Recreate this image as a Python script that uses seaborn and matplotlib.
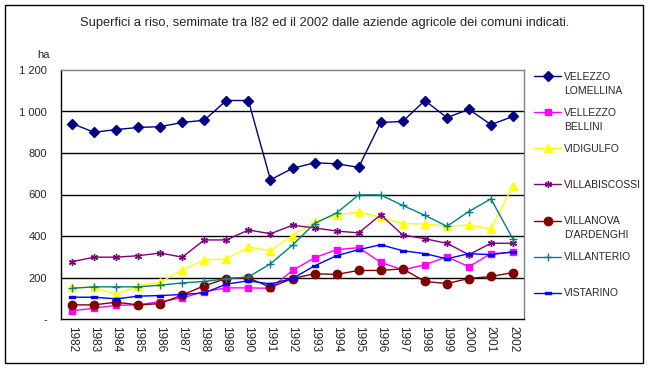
import numpy as np
import seaborn as sns
import matplotlib.pyplot as plt
from matplotlib.patches import Rectangle

# Superfici a riso (ha) per comune, 1982-2002
years = [str(y) for y in range(1982, 2003)]

velezzo_lomellina = [942, 900, 913, 923, 927, 947, 958, 1053, 1053, 671,
                     726, 753, 748, 731, 947, 952, 1053, 971, 1010, 937, 976]
vellezzo_bellini = [40, 52, 66, 68, 84, 102, 132, 150, 150, 148,
                    234, 295, 334, 344, 273, 237, 261, 300, 252, 315, 321]
vidigulfo = [152, 152, 119, 161, 177, 237, 284, 290, 347, 329,
             402, 469, 502, 516, 490, 460, 458, 447, 453, 434, 642]
villabiscossi = [276, 298, 298, 305, 318, 298, 381, 381, 429, 411,
                 452, 439, 424, 415, 502, 405, 387, 365, 310, 365, 365]
villanova = [68, 68, 81, 68, 74, 116, 160, 195, 198, 153,
             195, 218, 215, 234, 234, 242, 181, 171, 195, 205, 224]
villanterio = [148, 155, 155, 155, 163, 174, 181, 194, 203, 266,
               356, 460, 511, 598, 598, 547, 500, 447, 518, 579, 385]
vistarino = [105, 105, 97, 110, 113, 118, 126, 168, 184, 169,
             195, 256, 305, 334, 358, 329, 315, 290, 315, 310, 324]

labels = ["VELEZZO\nLOMELLINA", "VELLEZZO\nBELLINI", "VIDIGULFO",
          "VILLABISCOSSI", "VILLANOVA\nD'ARDENGHI", "VILLANTERIO", "VISTARINO"]
series = [velezzo_lomellina, vellezzo_bellini, vidigulfo, villabiscossi,
          villanova, villanterio, vistarino]

colors = ["#000080", "#FF00FF", "#FFFF00", "#800080", "#800000", "#008080", "#0000FF"]
dash = [(-1, -0.45), (1, -0.45), (1, 0.45), (-1, 0.45), (-1, -0.45)]
markers = ["D", "s", "^", (6, 2, 0), "o", "+", dash]
msizes = [5, 5, 6, 5, 6, 5.5, 4.5]

sns.set_style("white")
plt.rcParams['font.family'] = ['Liberation Sans', 'DejaVu Sans']
fs = 7.5

fig = plt.figure(figsize=(6.52, 3.69), dpi=100)
W, H = 652.0, 369.0
ax = fig.add_axes([61 / W, (H - 319) / H, (524 - 61) / W, (319 - 70) / H])

x = np.arange(len(years))
for vals, lab, col, mk, ms in zip(series, labels, colors, markers, msizes):
    sns.lineplot(x=x, y=vals, ax=ax, color=col, marker=mk, markersize=ms,
                 markeredgecolor=col, markerfacecolor=col, markeredgewidth=1,
                 linewidth=1, label=lab.split("\n")[0], zorder=3)

ax.set_xlim(-0.5, len(years) - 0.5)
ax.set_ylim(0, 1200)
ax.set_yticks(range(0, 1201, 200))
ax.set_yticklabels(["-" if v == 0 else f"{v:,}".replace(",", " ") for v in range(0, 1201, 200)],
                   fontsize=8)
ax.set_xticks(x)
ax.set_xticklabels(years, rotation=-90, fontsize=8.5)
ax.set_xticks(np.arange(-0.5, len(years)), minor=True)
ax.tick_params(axis="x", which="major", length=0, pad=5)
ax.tick_params(axis="x", which="minor", length=4, width=1, color="black", direction="out")
ax.tick_params(axis="y", length=4, width=1, color="black", direction="out", pad=6)
ax.set_xlabel("")
ax.set_ylabel("")

for v in range(200, 1001, 200):
    ax.axhline(v, color="black", linewidth=1, zorder=1)

for s in ["left", "bottom"]:
    ax.spines[s].set_color("black")
    ax.spines[s].set_linewidth(1)
for s in ["top", "right"]:
    ax.spines[s].set_color("#808080")
    ax.spines[s].set_linewidth(1)

fig.text(325 / W, 1 - 23 / H, "Superfici a riso, semimate tra I82 ed il 2002 dalle aziende agricole dei comuni indicati.",
         ha="center", va="center", fontsize=9.3)
fig.text(50 / W, 1 - 55 / H, "ha", ha="right", va="center", fontsize=8)

leg = ax.legend(loc="upper left", bbox_to_anchor=(534 / W, 1 - 72 / H),
                bbox_transform=fig.transFigure, frameon=False, fontsize=fs,
                handlelength=2.6, handletextpad=0.25, labelspacing=2.5,
                borderpad=0, borderaxespad=0)

fig.canvas.draw()
for txt, lab in zip(leg.get_texts(), labels):
    parts = lab.split("\n")
    if len(parts) > 1:
        bb = txt.get_window_extent()
        fig.text(bb.x0 / W, (bb.y0 - 14) / H, parts[1], ha="left", va="bottom", fontsize=fs)

fig.patches.append(Rectangle((5 / W, 1 - 363 / H), 638 / W, 358 / H, transform=fig.transFigure,
                             fill=False, edgecolor="black", linewidth=1))

fig.savefig("out.png", dpi=100)
